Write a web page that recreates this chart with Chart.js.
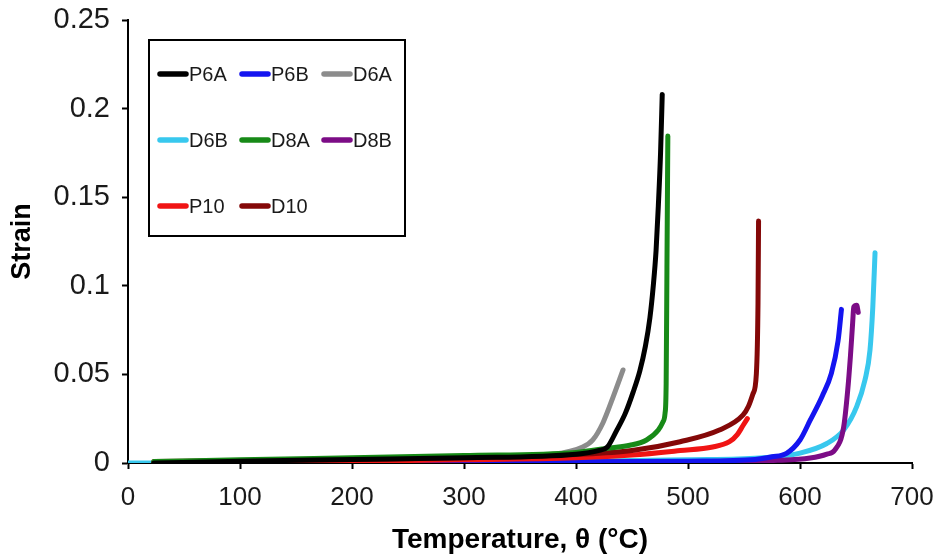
<!DOCTYPE html>
<html>
<head>
<meta charset="utf-8">
<script src="https://cdn.jsdelivr.net/npm/chart.js@4.4.1/dist/chart.umd.min.js"></script>
<style>
  html, body { margin: 0; padding: 0; background: #ffffff; }
  #wrap { width: 941px; height: 557px; }
</style>
</head>
<body>
<div id="wrap"><canvas id="c" width="941" height="557"></canvas></div>
<script>
// Strain vs temperature for each specimen (temperature in °C, strain dimensionless)
const seriesNames = ['P6A', 'P6B', 'D6A', 'D6B', 'D8A', 'D8B', 'P10', 'D10'];
const seriesColors = ['#000000', '#1414f0', '#8c8c8c', '#38c8ee', '#178a17', '#7c0c86', '#f01414', '#840808'];

const p6aT = [23, 100, 200, 300, 400, 420, 428, 436, 444, 451, 457, 462, 466, 469, 471.5, 473.5, 475.5, 477];
const p6aS = [0, 0.001, 0.002, 0.003, 0.005, 0.007, 0.009, 0.018, 0.028, 0.040, 0.052, 0.066, 0.082, 0.100, 0.120, 0.145, 0.175, 0.208];

const p6bT = [23, 200, 400, 500, 560, 575, 588, 600, 609, 620, 628, 634, 637];
const p6bS = [0, 0.0003, 0.0006, 0.001, 0.002, 0.0035, 0.0055, 0.013, 0.024, 0.038, 0.0506, 0.069, 0.0867];

const d6aT = [23, 100, 200, 300, 380, 406, 415, 424, 433, 442];
const d6aS = [0, 0.001, 0.002, 0.003, 0.005, 0.009, 0.013, 0.0226, 0.037, 0.0525];

const d6bT = [0, 23, 200, 400, 500, 564, 600, 624, 639, 650.6, 658, 662.5, 665, 667];
const d6bS = [0, 0, 0.0005, 0.001, 0.0018, 0.0028, 0.0056, 0.011, 0.0186, 0.0318, 0.0468, 0.0638, 0.088, 0.1187];

const d8aT = [23, 100, 200, 300, 400, 430, 448, 463, 473.5, 477.5, 479.5, 480.5, 481.2, 482];
const d8aS = [0.0008, 0.0018, 0.003, 0.0042, 0.006, 0.0085, 0.010, 0.013, 0.0186, 0.023, 0.028, 0.045, 0.11, 0.1845];

const d8bT = [23, 300, 500, 580, 609, 624, 631, 639, 642.6, 645, 647, 648, 650.6, 652];
const d8bS = [0, 0.0004, 0.0008, 0.0015, 0.0028, 0.005, 0.0073, 0.0203, 0.041, 0.060, 0.079, 0.088, 0.089, 0.085];

const p10T = [23, 100, 200, 300, 400, 450, 493, 522, 537, 544, 549, 553];
const p10S = [0, 0.0005, 0.001, 0.0018, 0.003, 0.0045, 0.007, 0.009, 0.012, 0.016, 0.021, 0.025];

const d10T = [23, 100, 200, 300, 400, 450, 493, 528, 549, 554, 558, 561, 562.5, 563];
const d10S = [0.0008, 0.0013, 0.002, 0.003, 0.0048, 0.007, 0.012, 0.0186, 0.027, 0.032, 0.039, 0.050, 0.09, 0.1366];

const xTicks = [0, 100, 200, 300, 400, 500, 600, 700];
const yTicks = [0, 0.05, 0.1, 0.15, 0.2, 0.25];

// stacking order of the curves (lower number is drawn on top)
const drawOrder = [1, 6, 5, 8, 2, 7, 4, 3];

const temps = [p6aT, p6bT, d6aT, d6bT, d8aT, d8bT, p10T, d10T];
const strains = [p6aS, p6bS, d6aS, d6bS, d8aS, d8bS, p10S, d10S];

const datasets = seriesNames.map((name, i) => ({
  label: name,
  data: temps[i].map((t, k) => ({ x: t, y: strains[i][k] })),
  borderColor: seriesColors[i],
  backgroundColor: seriesColors[i],
  borderWidth: 5,
  pointRadius: 0,
  cubicInterpolationMode: 'monotone',
  borderCapStyle: 'round',
  borderJoinStyle: 'round',
  fill: false,
  order: drawOrder[i]
}));

// boxed legend drawn inside the plot, three rows of series
const boxLegend = {
  id: 'boxLegend',
  afterDraw(chart) {
    const ctx = chart.ctx;
    const box = { l: 149, t: 40, r: 405, b: 236 };
    ctx.save();
    ctx.fillStyle = '#ffffff';
    ctx.fillRect(box.l, box.t, box.r - box.l, box.b - box.t);
    ctx.strokeStyle = '#000000';
    ctx.lineWidth = 2;
    ctx.strokeRect(box.l, box.t, box.r - box.l, box.b - box.t);
    const cols = [160, 242, 324];
    const rows = [74, 140, 206];
    ctx.font = '20px "Liberation Sans", Arial, sans-serif';
    ctx.textBaseline = 'middle';
    ctx.textAlign = 'left';
    chart.data.datasets.forEach((ds, i) => {
      const x = cols[i % 3];
      const y = rows[Math.floor(i / 3)];
      ctx.strokeStyle = ds.borderColor;
      ctx.lineWidth = 5.5;
      ctx.lineCap = 'round';
      ctx.beginPath();
      ctx.moveTo(x, y);
      ctx.lineTo(x + 26, y);
      ctx.stroke();
      ctx.fillStyle = '#1a1a1a';
      ctx.fillText(ds.label, x + 29, y + 1);
    });
    ctx.restore();
  }
};

new Chart(document.getElementById('c'), {
  type: 'line',
  data: { datasets },
  plugins: [boxLegend],
  options: {
    responsive: false,
    animation: false,
    layout: { padding: { top: 20, right: 29, left: 0, bottom: 0 } },
    plugins: {
      legend: { display: false },
      tooltip: { enabled: false }
    },
    scales: {
      x: {
        type: 'linear',
        min: 0,
        max: 700,
        afterBuildTicks(scale) { scale.ticks = xTicks.map(v => ({ value: v })); },
        afterFit(scale) {
          scale.height = 94;
          scale.paddingLeft = 0;
          scale.paddingRight = 0;
        },
        border: { display: true, color: '#000000', width: 2 },
        grid: { drawOnChartArea: false, drawTicks: true, tickLength: 6, color: '#000000', tickWidth: 2 },
        ticks: {
          color: '#1a1a1a',
          padding: 13,
          maxRotation: 0,
          font: { family: '"Liberation Sans", Arial, sans-serif', size: 26 },
          callback: v => String(v)
        },
        title: {
          display: true,
          text: 'Temperature, θ (°C)',
          color: '#000000',
          padding: { top: 0, bottom: 0 },
          font: { family: '"Liberation Sans", Arial, sans-serif', size: 28, weight: 'bold' }
        }
      },
      y: {
        type: 'linear',
        min: 0,
        max: 0.25,
        afterBuildTicks(scale) { scale.ticks = yTicks.map(v => ({ value: v })); },
        afterFit(scale) {
          scale.width = 128;
          scale.paddingTop = 0;
          scale.paddingBottom = 0;
        },
        border: { display: true, color: '#000000', width: 2 },
        grid: { drawOnChartArea: false, drawTicks: true, tickLength: 6, color: '#000000', tickWidth: 2 },
        ticks: {
          color: '#1a1a1a',
          padding: 12,
          font: { family: '"Liberation Sans", Arial, sans-serif', size: 29 },
          callback: v => String(+Number(v).toFixed(2))
        },
        title: {
          display: true,
          text: 'Strain',
          color: '#000000',
          padding: { top: 6, bottom: 0 },
          font: { family: '"Liberation Sans", Arial, sans-serif', size: 27, weight: 'bold' }
        }
      }
    }
  }
});
</script>
</body>
</html>
